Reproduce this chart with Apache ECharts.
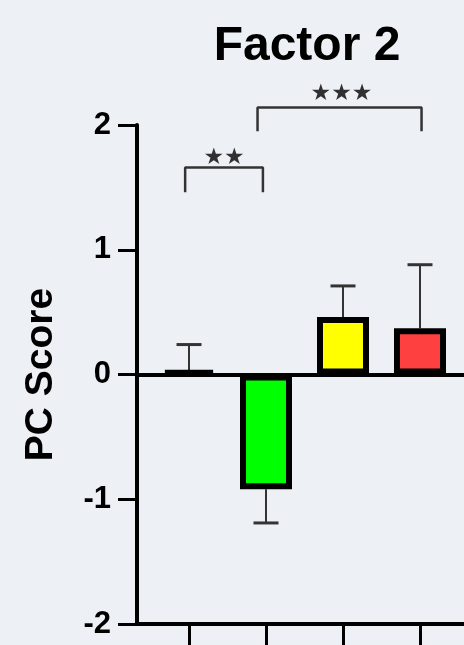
<!DOCTYPE html>
<html>
<head>
<meta charset="utf-8">
<script src="https://cdn.jsdelivr.net/npm/echarts@6/dist/echarts.min.js"></script>
<style>
html,body{margin:0;padding:0;background:#edf1f6;}
#c{width:464px;height:645px;}
</style>
</head>
<body>
<div id="c"></div>
<script>
// ---- data ----
var groupPos = [1, 2, 3, 4];
var means = [0.03, -0.92, 0.46, 0.37];
var errTips = [0.24, -1.19, 0.71, 0.88];
var barColors = ['#ffffff', '#00ff00', '#ffff00', '#ff4040'];
var yTicks = [-2, -1, 0, 1, 2];
var bracket1X = [0.95, 1.96];
var bracket1Y = [1.46, 1.66];
var bracket2X = [1.89, 4.02];
var bracket2Y = [1.95, 2.14];
var starLabels = ['★★', '★★★'];
var starX = [1.455, 2.98];
var starY = [1.74, 2.26];

var FONT = 'Liberation Sans, Arial, sans-serif';
var chart = echarts.init(document.getElementById('c'), null, {renderer: 'canvas'});

function bracketData(xs, ys) {
  return [[xs[0], ys[0]], [xs[0], ys[1]], [xs[1], ys[1]], [xs[1], ys[0]]];
}

var barData = groupPos.map(function (x, i) {
  return {value: [x, means[i]], itemStyle: {color: barColors[i]}};
});
var errData = groupPos.map(function (x, i) { return [x, means[i], errTips[i]]; });

var option = {
  backgroundColor: '#edf1f6',
  animation: false,
  title: {
    text: 'Factor 2',
    left: 302, top: 18, textAlign: 'center',
    textStyle: {fontFamily: FONT, fontSize: 48, fontWeight: 'bold', color: '#000'}
  },
  grid: {left: 137, right: 0, top: 125, bottom: 21, containLabel: false},
  xAxis: {
    type: 'value', min: 0.3247, max: 4.5714,
    splitLine: {show: false},
    axisLine: {onZero: false, lineStyle: {color: '#000', width: 4}},
    axisTick: {show: true, length: 25, customValues: groupPos, lineStyle: {color: '#000', width: 3}},
    axisLabel: {show: false}
  },
  yAxis: {
    type: 'value', min: -2, max: 2, interval: 1,
    name: 'PC Score', nameLocation: 'middle', nameGap: 76, nameRotate: 90,
    nameTextStyle: {fontFamily: FONT, fontSize: 39, fontWeight: 'bold', color: '#000'},
    splitLine: {show: false},
    axisLine: {show: true, lineStyle: {color: '#000', width: 4}},
    axisTick: {show: true, length: 19, lineStyle: {color: '#000', width: 3}},
    axisLabel: {fontFamily: FONT, fontSize: 31, fontWeight: 'bold', color: '#000', margin: 26,
      customValues: yTicks}
  },
  series: [
    {
      type: 'bar', data: barData, barWidth: 52,
      itemStyle: {borderColor: '#000', borderWidth: 6},
      markLine: {
        silent: true, symbol: 'none', label: {show: false},
        lineStyle: {color: '#000', width: 4, type: 'solid'},
        data: [{yAxis: 0}]
      },
      z: 3
    },
    {
      type: 'custom', data: errData, z: 2,
      renderItem: function (params, api) {
        var x = api.value(0);
        var p0 = api.coord([x, api.value(1)]);
        var p1 = api.coord([x, api.value(2)]);
        var hw = 12.5;
        return {
          type: 'group',
          children: [
            {type: 'line', shape: {x1: p0[0], y1: p0[1], x2: p1[0], y2: p1[1]},
              style: {stroke: '#333', lineWidth: 2}},
            {type: 'line', shape: {x1: p1[0] - hw, y1: p1[1], x2: p1[0] + hw, y2: p1[1]},
              style: {stroke: '#333', lineWidth: 3}}
          ]
        };
      }
    },
    {
      type: 'line', data: bracketData(bracket1X, bracket1Y), clip: false,
      symbol: 'none', lineStyle: {color: '#333', width: 2.5}, z: 4
    },
    {
      type: 'line', data: bracketData(bracket2X, bracket2Y), clip: false,
      symbol: 'none', lineStyle: {color: '#333', width: 2.5}, z: 4
    },
    {
      type: 'scatter', clip: false, symbolSize: 0, z: 5,
      data: [
        {value: [starX[0], starY[0]], label: {formatter: starLabels[0]}},
        {value: [starX[1], starY[1]], label: {formatter: starLabels[1]}}
      ],
      label: {show: true, position: 'inside', offset: [0, 1],
        fontFamily: 'DejaVu Sans', fontSize: 23, color: '#000'}
    }
  ]
};
chart.setOption(option);
</script>
</body>
</html>
